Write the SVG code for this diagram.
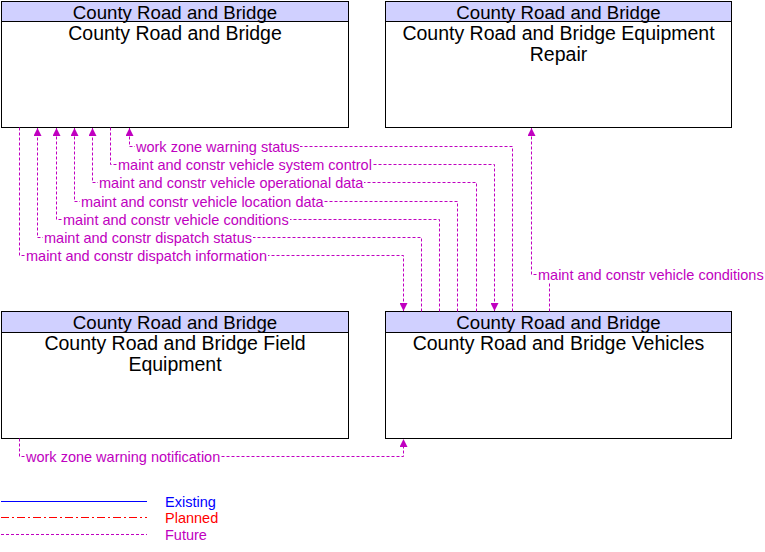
<svg xmlns="http://www.w3.org/2000/svg" width="765" height="552" viewBox="0 0 765 552">
<style>
.box{fill:#fff;stroke:#000;stroke-width:1}
.hdr{fill:#d0d0ff;stroke:#000;stroke-width:1}
.t{font-family:"Liberation Sans",Arial,sans-serif;font-size:18.67px;fill:#000;text-anchor:middle}
.b{font-family:"Liberation Sans",Arial,sans-serif;font-size:19.5px;fill:#000;text-anchor:middle}
.f{fill:none;stroke:#c000c0;stroke-width:1;stroke-dasharray:3,2}
.lbl{font-family:"Liberation Sans",Arial,sans-serif;font-size:14.5px;fill:#c000c0}
.bg{fill:#fff}
.lg{font-family:"Liberation Sans",Arial,sans-serif;font-size:14.5px}
</style>
<defs>
<marker id="ah" viewBox="0 0 8 8" refX="8" refY="4" markerWidth="8" markerHeight="8" orient="auto" markerUnits="userSpaceOnUse">
<path d="M0,0 L8,4 L0,8 Z" fill="#c000c0"/>
</marker>
</defs>
<rect width="765" height="552" fill="#fff"/>
<g id="node-crb">
<rect class="box" x="1.5" y="1.5" width="347" height="126"/>
<rect class="hdr" x="1.5" y="1.5" width="347" height="20"/>
<text class="t" x="175" y="18.5">County Road and Bridge</text>
<text class="b" x="175" y="39.5">County Road and Bridge</text>
</g>
<g id="node-repair">
<rect class="box" x="385.5" y="1.5" width="346" height="126"/>
<rect class="hdr" x="385.5" y="1.5" width="346" height="20"/>
<text class="t" x="558.5" y="18.5">County Road and Bridge</text>
<text class="b" x="558.5" y="39.5">County Road and Bridge Equipment</text>
<text class="b" x="558.5" y="60.5">Repair</text>
</g>
<g id="node-field">
<rect class="box" x="1.5" y="311.5" width="347" height="127"/>
<rect class="hdr" x="1.5" y="311.5" width="347" height="21"/>
<text class="t" x="175" y="328.5">County Road and Bridge</text>
<text class="b" x="175" y="350">County Road and Bridge Field</text>
<text class="b" x="175" y="371">Equipment</text>
</g>
<g id="node-vehicles">
<rect class="box" x="385.5" y="311.5" width="346" height="127"/>
<rect class="hdr" x="385.5" y="311.5" width="346" height="21"/>
<text class="t" x="558.5" y="328.5">County Road and Bridge</text>
<text class="b" x="558.5" y="350">County Road and Bridge Vehicles</text>
</g>
<g id="connectors">
<path class="f" d="M19.5,127.5 V255.5 H403.5 V311" marker-end="url(#ah)"/>
<path class="f" d="M421.5,311.5 V237.5 H37.5 V128" marker-end="url(#ah)"/>
<path class="f" d="M439.5,311.5 V219.5 H56.5 V128" marker-end="url(#ah)"/>
<path class="f" d="M457.5,311.5 V201.5 H74.5 V128" marker-end="url(#ah)"/>
<path class="f" d="M476.5,311.5 V182.5 H92.5 V128" marker-end="url(#ah)"/>
<path class="f" d="M110.5,127.5 V164.5 H494.5 V311" marker-end="url(#ah)"/>
<path class="f" d="M512.5,311.5 V146.5 H129.5 V128" marker-end="url(#ah)"/>
<path class="f" d="M549.5,311.5 V274.5 H531.5 V128" marker-end="url(#ah)"/>
<path class="f" d="M19.5,438.5 V456.5 H403.5 V439" marker-end="url(#ah)"/>
<rect class="bg" x="135" y="140" width="165" height="14"/>
<text class="lbl" x="136" y="151.5">work zone warning status</text>
<rect class="bg" x="117" y="158" width="255" height="14"/>
<text class="lbl" x="118" y="169.5">maint and constr vehicle system control</text>
<rect class="bg" x="98" y="176" width="266" height="14"/>
<text class="lbl" x="99" y="187.5">maint and constr vehicle operational data</text>
<rect class="bg" x="80" y="195" width="244" height="14"/>
<text class="lbl" x="81" y="206.5">maint and constr vehicle location data</text>
<rect class="bg" x="62" y="213" width="228" height="14"/>
<text class="lbl" x="63" y="224.5">maint and constr vehicle conditions</text>
<rect class="bg" x="43" y="231" width="210" height="14"/>
<text class="lbl" x="44" y="242.5">maint and constr dispatch status</text>
<rect class="bg" x="25" y="249" width="243" height="14"/>
<text class="lbl" x="26" y="260.5">maint and constr dispatch information</text>
<rect class="bg" x="537" y="268" width="228" height="14"/>
<text class="lbl" x="538" y="279.5">maint and constr vehicle conditions</text>
<rect class="bg" x="25" y="450" width="196" height="14"/>
<text class="lbl" x="26" y="461.5">work zone warning notification</text>
</g>
<g id="legend">
<line x1="1" y1="501.5" x2="147" y2="501.5" stroke="#0000ff" stroke-width="1"/>
<line x1="1" y1="517.5" x2="147" y2="517.5" stroke="#ff0000" stroke-width="1" stroke-dasharray="8,3,2,3"/>
<line x1="1" y1="534.5" x2="147" y2="534.5" stroke="#c000c0" stroke-width="1" stroke-dasharray="3,2"/>
<text class="lg" x="165" y="507" fill="#0000ff">Existing</text>
<text class="lg" x="165" y="523" fill="#ff0000">Planned</text>
<text class="lg" x="165" y="540" fill="#c000c0">Future</text>
</g>
</svg>
